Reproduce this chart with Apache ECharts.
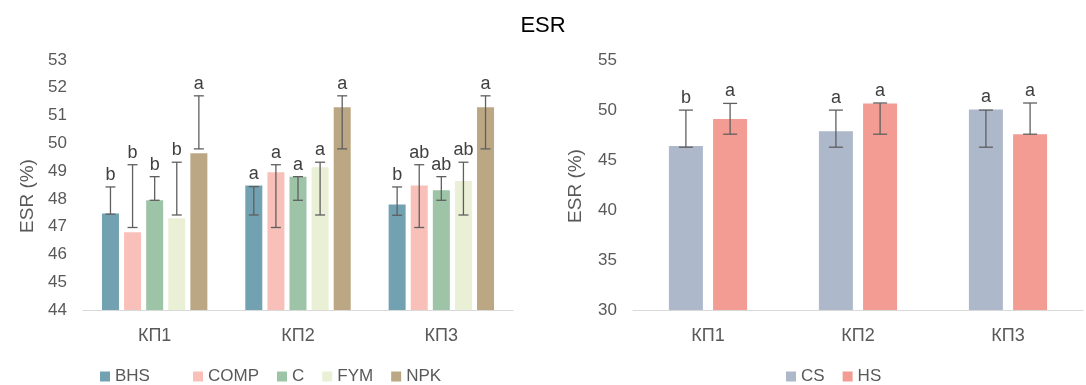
<!DOCTYPE html>
<html>
<head>
<meta charset="utf-8">
<script src="https://cdn.jsdelivr.net/npm/echarts@6/dist/echarts.min.js"></script>
<style>
  html, body { margin: 0; padding: 0; background: #fff; }
  #chart { width: 1086px; height: 385px; }
</style>
</head>
<body>
<div id="chart"></div>
<script>
// Categories shared by both panels
const categories = ['КП1', 'КП2', 'КП3'];

// Left panel: fertilisation treatments
const leftNames = ['BHS', 'COMP', 'C', 'FYM', 'NPK'];
const bhs  = [47.47, 48.48, 47.80];
const comp = [46.80, 48.96, 48.48];
const cTr  = [47.95, 48.80, 48.31];
const fym  = [47.30, 49.14, 48.64];
const npk  = [49.64, 51.30, 51.30];

const bhsLow  = [47.45, 47.42, 47.41];
const bhsHigh = [48.43, 48.44, 48.43];
const compLow  = [46.97, 46.97, 46.97];
const compHigh = [49.23, 49.23, 49.23];
const cLow  = [47.95, 47.95, 47.95];
const cHigh = [48.80, 48.80, 48.80];
const fymLow  = [47.42, 47.42, 47.42];
const fymHigh = [49.32, 49.32, 49.32];
const npkLow  = [49.80, 49.80, 49.80];
const npkHigh = [51.71, 51.71, 51.71];

const bhsLetters  = ['b', 'a', 'b'];
const compLetters = ['b', 'a', 'ab'];
const cLetters    = ['b', 'a', 'ab'];
const fymLetters  = ['b', 'a', 'ab'];
const npkLetters  = ['a', 'a', 'a'];

// Right panel: tillage systems
const rightNames = ['CS', 'HS'];
const cs = [46.41, 47.88, 50.06];
const hs = [49.09, 50.66, 47.58];
const csLow  = [46.28, 46.28, 46.28];
const csHigh = [49.99, 49.99, 49.99];
const hsLow  = [47.58, 47.58, 47.58];
const hsHigh = [50.66, 50.70, 50.70];
const csLetters = ['b', 'a', 'a'];
const hsLetters = ['a', 'a', 'a'];

// Y axis ticks
const leftTicks = { min: 44, max: 53, interval: 1 };
const rightTicks = { min: 30, max: 55, interval: 5 };
const yTitle = 'ESR (%)';

const leftColors = ['#72A1B1', '#F8C0B9', '#9DC4A6', '#E9F0D5', '#BBA783'];
const rightColors = ['#ADB9CA', '#F29C93'];

const leftSets = [
  [bhs, bhsLow, bhsHigh, bhsLetters],
  [comp, compLow, compHigh, compLetters],
  [cTr, cLow, cHigh, cLetters],
  [fym, fymLow, fymHigh, fymLetters],
  [npk, npkLow, npkHigh, npkLetters]
];
const rightSets = [
  [cs, csLow, csHigh, csLetters],
  [hs, hsLow, hsHigh, hsLetters]
];

const axisText = '#595959';
const errColor = '#5f5f5f';
const font = '"Liberation Sans", Arial, sans-serif';

// Error bars with significance letters, aligned to the grouped bars
function errorSeries(sets, axisIdx, barW, gapRatio, capW) {
  const n = sets.length;
  const step = barW * (1 + gapRatio);
  return sets.map(function (s, i) {
    const vals = s[0], lows = s[1], highs = s[2], letters = s[3];
    const offset = (i - (n - 1) / 2) * step;
    return {
      type: 'custom',
      xAxisIndex: axisIdx,
      yAxisIndex: axisIdx,
      z: 5,
      silent: true,
      data: vals.map(function (v, k) { return [k, lows[k], highs[k], v]; }),
      renderItem: function (params, api) {
        const k = api.value(0);
        const pLow = api.coord([k, api.value(1)]);
        const pHigh = api.coord([k, api.value(2)]);
        const top = Math.max(api.value(2), api.value(3));
        const pTop = api.coord([k, top]);
        const x = pLow[0] + offset;
        const style = { stroke: errColor, lineWidth: 1.3 };
        return {
          type: 'group',
          children: [
            { type: 'line', shape: { x1: x, y1: pLow[1], x2: x, y2: pHigh[1] }, style: style },
            { type: 'line', shape: { x1: x - capW / 2, y1: pLow[1], x2: x + capW / 2, y2: pLow[1] }, style: style },
            { type: 'line', shape: { x1: x - capW / 2, y1: pHigh[1], x2: x + capW / 2, y2: pHigh[1] }, style: style },
            {
              type: 'text',
              x: x, y: pTop[1] - 3,
              style: {
                text: letters[k],
                fill: '#404040',
                font: '18px ' + font,
                textAlign: 'center',
                textVerticalAlign: 'bottom'
              }
            }
          ]
        };
      }
    };
  });
}

const LEFT_BAR = 17, RIGHT_BAR = 34, GAP = 0.3;

const barSeries = [];
leftSets.forEach(function (s, i) {
  barSeries.push({
    name: leftNames[i], type: 'bar', xAxisIndex: 0, yAxisIndex: 0,
    data: s[0], barWidth: LEFT_BAR, barGap: '30%',
    itemStyle: { color: leftColors[i] }
  });
});
rightSets.forEach(function (s, i) {
  barSeries.push({
    name: rightNames[i], type: 'bar', xAxisIndex: 1, yAxisIndex: 1,
    data: s[0], barWidth: RIGHT_BAR, barGap: '30%',
    itemStyle: { color: rightColors[i] }
  });
});

function catAxis(gridIndex) {
  return {
    type: 'category', gridIndex: gridIndex, data: categories,
    axisLine: { lineStyle: { color: '#D9D9D9', width: 1 } },
    axisTick: { show: false },
    axisLabel: { color: axisText, fontSize: 18, fontFamily: font, margin: 17 }
  };
}
function valAxis(gridIndex, t) {
  return {
    type: 'value', gridIndex: gridIndex, min: t.min, max: t.max, interval: t.interval,
    axisLine: { show: false }, axisTick: { show: false },
    splitLine: { show: false },
    axisLabel: { color: axisText, fontSize: 17, fontFamily: font, margin: 16 }
  };
}

const legendText = { color: axisText, fontSize: 17, fontFamily: font };
const legendCommon = {
  top: 368, itemWidth: 10, itemHeight: 10, icon: 'rect',
  itemGap: 18, itemTextGap: 5, textStyle: legendText, padding: 0
};

const option = {
  backgroundColor: '#ffffff',
  animation: false,
  title: {
    text: 'ESR', left: 'center', top: 10,
    textStyle: { color: '#000', fontSize: 22, fontWeight: 'normal', fontFamily: font }
  },
  legend: [
    Object.assign({}, legendCommon, { left: 100, data: ['BHS'] }),
    Object.assign({}, legendCommon, { left: 193, data: ['COMP', 'C', 'FYM', 'NPK'] }),
    Object.assign({}, legendCommon, { left: 786, data: ['CS', 'HS'] })
  ],
  grid: [
    { left: 83, right: 573, top: 60, bottom: 75 },
    { left: 633, right: 3, top: 60, bottom: 75 }
  ],
  xAxis: [catAxis(0), catAxis(1)],
  yAxis: [valAxis(0, leftTicks), valAxis(1, rightTicks)],
  graphic: [
    {
      type: 'text', x: 28, y: 196, rotation: Math.PI / 2,
      style: { text: yTitle, fill: axisText, font: '19px ' + font, textAlign: 'center', textVerticalAlign: 'middle' }
    },
    {
      type: 'text', x: 576, y: 186, rotation: Math.PI / 2,
      style: { text: yTitle, fill: axisText, font: '19px ' + font, textAlign: 'center', textVerticalAlign: 'middle' }
    }
  ],
  series: barSeries
    .concat(errorSeries(leftSets, 0, LEFT_BAR, GAP, 10))
    .concat(errorSeries(rightSets, 1, RIGHT_BAR, GAP, 14))
};

const chart = echarts.init(document.getElementById('chart'));
chart.setOption(option);
</script>
</body>
</html>
